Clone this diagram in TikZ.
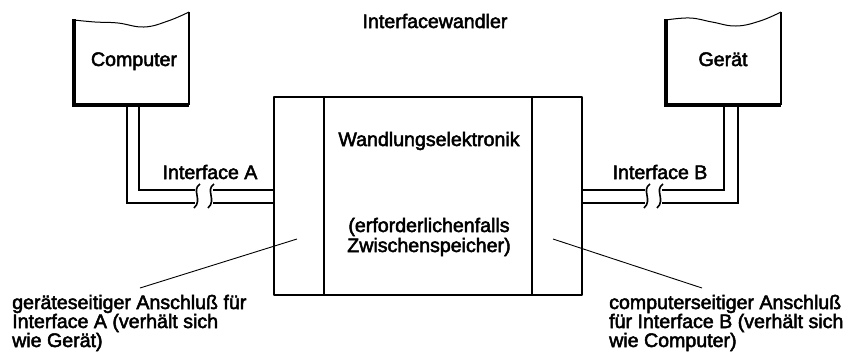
\documentclass[tikz,border=0pt]{standalone}
\usepackage{fontspec}
\setmainfont{Liberation Sans}
\newfontfamily\diafont{Liberation Sans}[FakeBold=2.5]
\begin{document}
\begin{tikzpicture}[x=1pt,y=-1pt,
  heavy/.style={line width=2.8pt},
  stem/.style={line width=2.2pt},
  thinline/.style={line width=0.9pt},
  wave/.style={line width=1.0pt},
  squig/.style={line width=1.6pt},
  lbl/.style={font=\diafont\fontsize{19.6}{19}\selectfont, inner sep=0pt},
  boxarea/.style={draw=none, inner sep=0pt}]
\useasboundingbox (0,0) rectangle (851,357);

% named areas
\node[boxarea, minimum width=308pt, minimum height=198pt] (conv) at (428,196) {};
\node[boxarea, minimum width=115pt, minimum height=85pt] (comp) at (131.5,62.5) {};
\node[boxarea, minimum width=115pt, minimum height=85pt] (dev) at (723.5,62.5) {};

% main converter box
\draw[heavy, line join=round] (274,97) rectangle (582,295);
\draw[heavy] (324,97) -- (324,295);
\draw[heavy] (532,97) -- (532,295);

% computer box
\draw[line width=3.4pt, line join=miter] (74,19) -- (74,105) -- (189,105);
\draw[line width=2.6pt] (189,105) -- (189,12);
\draw[wave] plot[smooth, tension=0.7] coordinates {(74,20) (95,22) (118,23) (144,27) (168,21) (189,12)};

% device box
\draw[line width=3.4pt, line join=miter] (666,19) -- (666,105) -- (781,105);
\draw[line width=2.6pt] (781,105) -- (781,12);
\draw[wave] plot[smooth, tension=0.7] coordinates {(666,20) (690,18) (712,22) (736,26) (760,21) (781,12)};

% connectors left
\coordinate (la1) at (195,190);
\coordinate (la2) at (195,203);
\coordinate (lb1) at (213,190);
\coordinate (lb2) at (213,203);
\draw[stem] (139,105) -- (139,190) -- (la1);
\draw[stem] (127,105) -- (127,203) -- (la2);
\draw[stem] (lb1) -- (conv.west |- lb1);
\draw[stem] (lb2) -- (conv.west |- lb2);
\foreach \sx in {197,211}
  \draw[squig] (\sx+3,184) .. controls (\sx-6,190) and (\sx+6,200) .. (\sx-3,208);

% connectors right
\coordinate (ra1) at (645,190);
\coordinate (ra2) at (645,203);
\coordinate (rb1) at (662,190);
\coordinate (rb2) at (662,203);
\draw[stem] (conv.east |- ra1) -- (ra1);
\draw[stem] (conv.east |- ra2) -- (ra2);
\draw[stem] (rb1) -- (724,190) -- (724,105);
\draw[stem] (rb2) -- (738,203) -- (738,105);
\foreach \sx in {647,660}
  \draw[squig] (\sx+3,184) .. controls (\sx-6,190) and (\sx+6,200) .. (\sx-3,208);

% leader lines
\coordinate (lpt) at (297,239);
\coordinate (rpt) at (553,239);
\draw[thinline] (140,288) -- (lpt);
\draw[thinline] (rpt) -- (702,288);

% texts
\node[lbl, anchor=base] (title) at (435,28) {Interfacewandler};
\node[lbl, anchor=base] (tcomp) at (134,66) {Computer};
\node[lbl, anchor=base] (tdev) at (723,66) {Gerät};
\node[lbl, anchor=base] (tia) at (210,179) {Interface A};
\node[lbl, anchor=base] (tib) at (660,179) {Interface B};
\node[lbl, anchor=base] (twand) at (429,146) {Wandlungselektronik};
\node[lbl, anchor=base] (terf) at (429,232) {(erforderlichenfalls};
\node[lbl, anchor=base] (tzw) at (429,252) {Zwischenspeicher)};
\node[lbl, anchor=base west] (tl1) at (12,309) {geräteseitiger Anschluß für};
\node[lbl, anchor=base west] (tl2) at (12,328) {Interface A (verhält sich};
\node[lbl, anchor=base west] (tl3) at (12,347) {wie Gerät)};
\node[lbl, anchor=base west] (tr1) at (609,309) {computerseitiger Anschluß};
\node[lbl, anchor=base west] (tr2) at (609,328) {für Interface B (verhält sich};
\node[lbl, anchor=base west] (tr3) at (609,347) {wie Computer)};
\end{tikzpicture}
\end{document}
